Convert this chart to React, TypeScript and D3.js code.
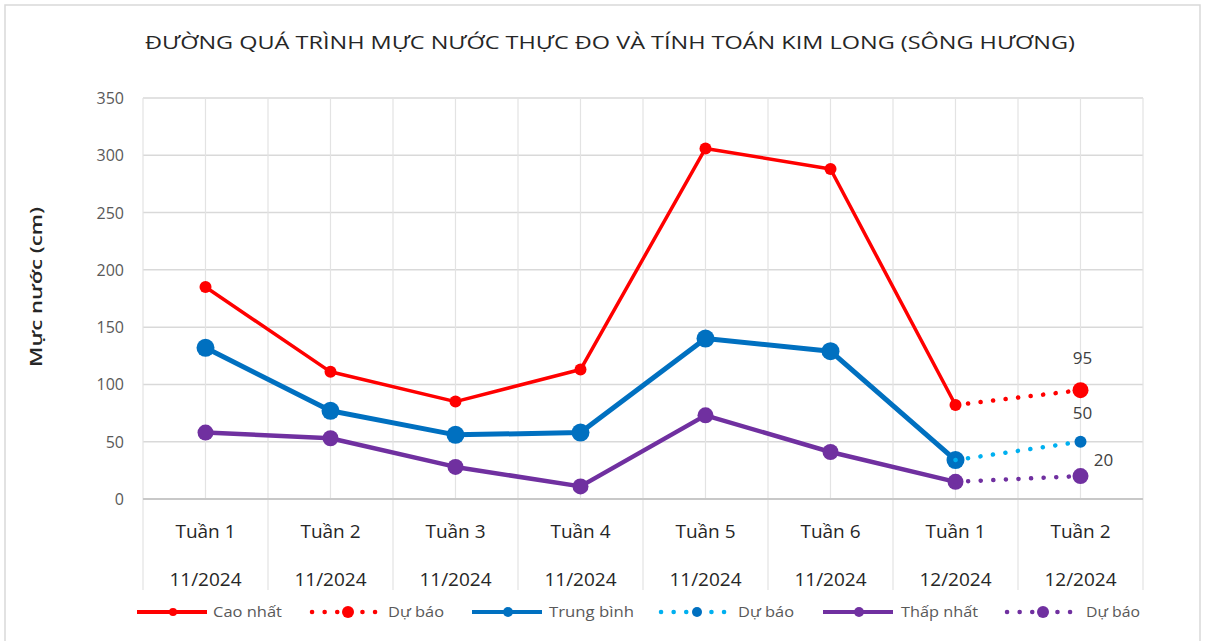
import React from 'react';
import * as d3 from 'd3';

// Chart data
const weeks = ['Tuần 1', 'Tuần 2', 'Tuần 3', 'Tuần 4', 'Tuần 5', 'Tuần 6', 'Tuần 1', 'Tuần 2'];
const months = ['11/2024', '11/2024', '11/2024', '11/2024', '11/2024', '11/2024', '12/2024', '12/2024'];
const yTicks = [0, 50, 100, 150, 200, 250, 300, 350];

const caoNhat = [185, 111, 85, 113, 306, 288, 82, null];
const caoDuBao = [null, null, null, null, null, null, 82, 95];
const trungBinh = [132, 77, 56, 58, 140, 129, 34, null];
const tbDuBao = [null, null, null, null, null, null, 34, 50];
const thapNhat = [58, 53, 28, 11, 73, 41, 15, null];
const thapDuBao = [null, null, null, null, null, null, 15, 20];

const W = 1205;
const H = 641;
const margin = { left: 143, right: 62, top: 98, bottom: 142 };
const font = "'Open Sans', 'Noto Sans', sans-serif";

export default function App() {
  const innerW = W - margin.left - margin.right;
  const idx = weeks.map((_, i) => i);
  const x = d3.scaleBand<number>().domain(idx).range([margin.left, margin.left + innerW]);
  const cx = (i: number) => (x(i) as number) + x.bandwidth() / 2;
  const y = d3.scaleLinear().domain([0, 350]).range([H - margin.bottom, margin.top]);
  const y0 = y(0);

  const line = d3
    .line<number | null>()
    .defined((d) => d !== null)
    .x((_, i) => cx(i))
    .y((d) => y(d as number));

  const series = [
    { data: caoNhat, color: '#ff0000', width: 3.5, r: 6, lr: 4, dotted: false, label: 'Cao nhất' },
    { data: caoDuBao, color: '#ff0000', width: 4.5, r: 8, lr: 6, dotted: true, label: 'Dự báo', endOnly: true },
    { data: trungBinh, color: '#0070c0', width: 5, r: 9, lr: 5, dotted: false, label: 'Trung bình' },
    { data: tbDuBao, color: '#00b0f0', width: 4.5, r: 6, lr: 5, dotted: true, label: 'Dự báo', marker: '#0070c0', endOnly: true },
    { data: thapNhat, color: '#7030a0', width: 4.5, r: 8, lr: 5, dotted: false, label: 'Thấp nhất' },
    { data: thapDuBao, color: '#7030a0', width: 4.5, r: 8, lr: 6, dotted: true, label: 'Dự báo', endOnly: true },
  ];

  const legendX = [137, 312, 472, 661, 823, 1007];
  const legendTextX = [213, 388, 549, 738, 901, 1086];
  const legendTextW = [69, 56, 85, 56, 77, 54];
  const legendY = 612;

  const labels = [
    { i: 7, v: 95, dx: 2, dy: -26 },
    { i: 7, v: 50, dx: 2, dy: -23 },
    { i: 7, v: 20, dx: 23, dy: -10 },
  ];

  const halfTicks = d3.range(0, weeks.length * 2 + 1).map((k) => margin.left + (k * x.bandwidth()) / 2);

  return (
    <svg width={W} height={H} style={{ position: 'absolute', left: 0, top: 0, background: '#fff' }}>
      <rect x={5} y={5} width={1195} height={640} fill="#fff" stroke="#d9d9d9" strokeWidth={1.5} />
      <text x={610} y={49} textAnchor="middle" fontFamily={font} fontSize={19} fill="#262626" textLength={930} lengthAdjust="spacingAndGlyphs">
        ĐƯỜNG QUÁ TRÌNH MỰC NƯỚC THỰC ĐO VÀ TÍNH TOÁN KIM LONG (SÔNG HƯƠNG)
      </text>

      {/* gridlines */}
      {yTicks.map((t) => (
        <line key={'h' + t} x1={margin.left} x2={margin.left + innerW} y1={y(t)} y2={y(t)} stroke="#d9d9d9" strokeWidth={1.5} />
      ))}
      {halfTicks.map((gx, k) => (
        <line key={'v' + k} x1={gx} x2={gx} y1={margin.top} y2={k % 2 === 0 ? 590 : y0} stroke="#e3e3e3" strokeWidth={1.2} />
      ))}
      <line x1={margin.left} x2={margin.left + innerW} y1={y0} y2={y0} stroke="#bfbfbf" strokeWidth={1.5} />

      {/* y axis labels */}
      {yTicks.map((t) => (
        <text key={'yt' + t} x={124} y={y(t) + 6} textAnchor="end" fontFamily={font} fontSize={16} fill="#595959">
          {t}
        </text>
      ))}
      <text transform="translate(42,287) rotate(-90)" textAnchor="middle" fontFamily={font} fontSize={16} fontWeight={600} fill="#262626" textLength={160} lengthAdjust="spacingAndGlyphs">
        Mực nước (cm)
      </text>

      {/* x axis labels */}
      {idx.map((i) => (
        <g key={'xl' + i} fontFamily={font} fontSize={19} fill="#262626" textAnchor="middle">
          <text x={cx(i)} y={538}>{weeks[i]}</text>
          <text x={cx(i)} y={586}>{months[i]}</text>
        </g>
      ))}

      {/* series */}
      {series.map((s, k) => (
        <g key={'s' + k}>
          <path
            d={line(s.data) || ''}
            fill="none"
            stroke={s.color}
            strokeWidth={s.width}
            strokeLinecap={s.dotted ? 'round' : 'butt'}
            strokeDasharray={s.dotted ? '0.1 12.5' : undefined}
            strokeLinejoin="round"
          />
          {s.data.map((d, i) =>
            d === null || (s.endOnly && i < 7) ? null : (
              <circle key={i} cx={cx(i)} cy={y(d)} r={s.r} fill={s.marker || s.color} />
            )
          )}
        </g>
      ))}

      {/* data labels */}
      {labels.map((l, k) => (
        <text key={'dl' + k} x={cx(l.i) + l.dx} y={y(l.v) + l.dy} textAnchor="middle" fontFamily={font} fontSize={17} fill="#404040">
          {l.v}
        </text>
      ))}

      {/* legend */}
      {series.map((s, k) => {
        const lx = legendX[k];
        return (
          <g key={'lg' + k}>
            <line
              x1={lx}
              x2={lx + 70}
              y1={legendY}
              y2={legendY}
              stroke={s.color}
              strokeWidth={s.dotted ? 4.5 : 4}
              strokeLinecap={s.dotted ? 'round' : 'butt'}
              strokeDasharray={s.dotted ? '0.1 12.5' : undefined}
            />
            <circle cx={lx + 36} cy={legendY} r={s.lr} fill={s.marker || s.color} />
            <text
              x={legendTextX[k]}
              y={legendY + 5}
              fontFamily={font}
              fontSize={15}
              fill="#595959"
              textLength={legendTextW[k]}
              lengthAdjust="spacingAndGlyphs"
            >
              {s.label}
            </text>
          </g>
        );
      })}
    </svg>
  );
}
